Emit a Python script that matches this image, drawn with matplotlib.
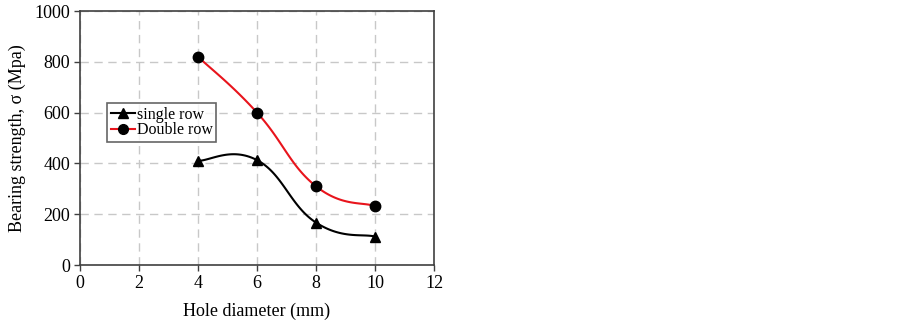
import numpy as np
import matplotlib
matplotlib.use("Agg")
import matplotlib.pyplot as plt

hole_diameter = [4, 6, 8, 10]
single_row = [410, 413, 167, 112]
double_row = [820, 600, 310, 232]
x_ticks = [0, 2, 4, 6, 8, 10, 12]
y_ticks = [0, 200, 400, 600, 800, 1000]

plt.rcParams['font.family'] = ['Liberation Serif', 'DejaVu Serif']


def smooth(xs, ys, k=0.22, n=40):
    xs = np.asarray(xs, float)
    ys = np.asarray(ys, float)
    px = np.concatenate([[xs[0]], xs, [xs[-1]]])
    py = np.concatenate([[ys[0]], ys, [ys[-1]]])
    outx, outy = [], []
    t = np.linspace(0, 1, n)
    for i in range(1, len(px) - 2):
        p0 = np.array([px[i - 1], py[i - 1]])
        p1 = np.array([px[i], py[i]])
        p2 = np.array([px[i + 1], py[i + 1]])
        p3 = np.array([px[i + 2], py[i + 2]])
        c1 = p1 + (p2 - p0) * k
        c2 = p2 - (p3 - p1) * k
        b = ((1 - t) ** 3)[:, None] * p1 + (3 * (1 - t) ** 2 * t)[:, None] * c1 \
            + (3 * (1 - t) * t ** 2)[:, None] * c2 + (t ** 3)[:, None] * p2
        outx.extend(b[:, 0])
        outy.extend(b[:, 1])
    return np.array(outx), np.array(outy)


fig = plt.figure(figsize=(9.03, 3.25), dpi=100)
ax = fig.add_axes([80 / 903, 1 - 265 / 325, (434 - 80) / 903, (265 - 11) / 325])

sx, sy = smooth(hole_diameter, single_row)
dx, dy = smooth(hole_diameter, double_row)
ax.plot(sx, sy, color='black', lw=1.5, zorder=3)
ax.plot(dx, dy, color='#e8141c', lw=1.5, zorder=3)
ax.plot(hole_diameter, single_row, ls='none', marker='^', ms=7.5, color='black', zorder=4)
ax.plot(hole_diameter, double_row, ls='none', marker='o', ms=7.5, color='black', zorder=4)

h1, = ax.plot([], [], color='black', lw=1.5, marker='^', ms=7)
h2, = ax.plot([], [], color='#e8141c', lw=1.5, marker='o', ms=7,
              markerfacecolor='black', markeredgecolor='black')
leg = ax.legend([h1, h2], ['single row', 'Double row'], loc='upper left',
                bbox_to_anchor=((107 - 80) / 354, (265 - 103) / 254),
                fontsize=11.5, frameon=True, fancybox=False, handlelength=1.5,
                handletextpad=0.1, borderpad=0.25, labelspacing=-0.05,
                borderaxespad=0)
leg.get_frame().set_edgecolor('#404040')
leg.get_frame().set_linewidth(1.2)

ax.set_xlim(0, 12)
ax.set_ylim(0, 1000)
ax.set_xticks(x_ticks)
ax.set_yticks(y_ticks)
ax.grid(True, color='#c8c8c8', ls=(0, (6, 4)), lw=1.0)
ax.set_axisbelow(True)
for s in ax.spines.values():
    s.set_color('#404040')
    s.set_linewidth(1.2)
ax.tick_params(direction='out', length=4, width=1, colors='#404040',
               labelcolor='black', labelsize=13, pad=3)
ax.set_xlabel('Hole diameter (mm)', fontsize=13, labelpad=8)
ax.set_ylabel('Bearing strength, σ (Mpa)', fontsize=13, labelpad=6)

fig.savefig('out.png', dpi=100)
